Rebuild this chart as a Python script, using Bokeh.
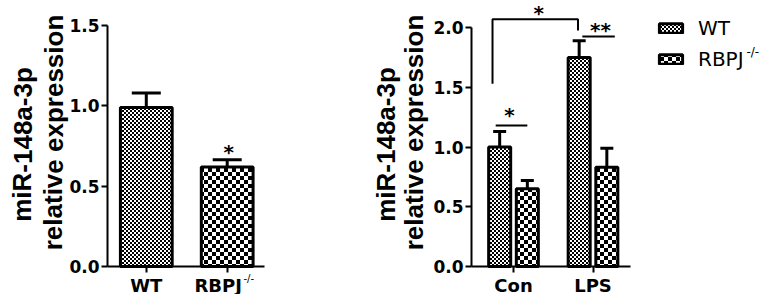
import base64
from bokeh.plotting import figure
from bokeh.models import (ColumnDataSource, FixedTicker, Whisker, TeeHead,
                          Legend, LegendItem, ImageURLTexture, PrintfTickFormatter)
from bokeh.core.properties import value
from bokeh.layouts import row
from bokeh.embed import file_html
from bokeh.resources import INLINE

# ---------------- data ----------------
left_groups = ["WT", "RBPJ"]
left_means = [0.99, 0.62]
left_errs = [0.09, 0.045]

right_groups = ["Con", "LPS"]
wt_means = [1.00, 1.75]
wt_errs = [0.13, 0.14]
ko_means = [0.65, 0.83]
ko_errs = [0.07, 0.16]

series_names = ["WT", "RBPJ"]
superscript = "-/-"
ylabel_lines = ["miR-148a-3p", "relative expression"]
left_yticks = [0.0, 0.5, 1.0, 1.5]
right_yticks = [0.0, 0.5, 1.0, 1.5, 2.0]

# ---------------- styles ----------------
FONT_NUM = "DejaVu Sans"
FONT_LBL = "Liberation Sans"
H = 294


def checker_url(n):
    t = 2 * n
    svg = (f"<svg xmlns='http://www.w3.org/2000/svg' width='{t}' height='{t}'>"
           f"<rect width='{t}' height='{t}' fill='white'/>"
           f"<rect width='{n}' height='{n}' fill='black'/>"
           f"<rect x='{n}' y='{n}' width='{n}' height='{n}' fill='black'/></svg>")
    return "data:image/svg+xml;base64," + base64.b64encode(svg.encode()).decode()


HATCH = {"fine": ImageURLTexture(url=checker_url(2)),
         "coarse": ImageURLTexture(url=checker_url(4))}


def make_fig(width, xr, yr):
    p = figure(width=width, height=H, output_backend="svg", toolbar_location=None,
               x_range=xr, y_range=yr, min_border=0, min_border_left=0,
               min_border_right=0, min_border_top=0, min_border_bottom=0,
               title_location=None)
    for ax in (p.xaxis[0], p.yaxis[0]):
        ax.axis_line_width = 2
        ax.major_tick_line_width = 2
        ax.major_tick_out = 6
        ax.major_tick_in = 0
        ax.minor_tick_out = 0
        ax.minor_tick_in = 0
        ax.major_label_text_font = FONT_NUM
        ax.major_label_text_font_style = "bold"
        ax.major_label_text_color = "black"
        ax.axis_line_color = "black"
        ax.major_tick_line_color = "black"
    p.yaxis.major_label_text_font_size = "17px"
    p.yaxis.major_label_standoff = 2
    p.xgrid.visible = False
    p.ygrid.visible = False
    p.outline_line_color = None
    p.background_fill_color = "white"
    p.border_fill_color = "white"
    return p


def txt(p, x, y, s, size, bold=True, align="center", baseline="middle",
        angle=0.0, font=FONT_NUM):
    p.text(x=x, y=y, text=s, text_font=value(font),
           text_font_style="bold" if bold else "normal", text_font_size=size,
           text_align=align, text_baseline=baseline, angle=angle, text_color="black")


# ---------------- left chart ----------------
W1 = 300
l_ppx = 80.9            # px per x unit
l_ppy = 241 / 1.5       # px per y unit
L_AX = 107              # page x of y axis
L_ZERO = 266            # page y of value 0
L_XS = 1 - 145.8 / l_ppx
lX = lambda px: L_XS + px / l_ppx
lY = lambda py: (L_ZERO - py) / l_ppy
p1 = make_fig(W1, (L_XS, L_XS + W1 / l_ppx), (lY(H), lY(0)))
lx = [1, 2]
src1 = ColumnDataSource(dict(x=lx, top=left_means,
                             upper=[m + e for m, e in zip(left_means, left_errs)],
                             pat=["fine", "coarse"]))
p1.vbar(x="x", top="top", width=0.64, bottom=0, source=src1,
        fill_color="white", line_color="black", line_width=3,
        hatch_pattern="pat", hatch_color="black", hatch_extra=HATCH)
p1.add_layout(Whisker(source=src1, base="x", lower="top", upper="upper",
                      dimension="height", line_width=3, line_color="black",
                      upper_head=TeeHead(size=29, line_width=3, line_color="black"),
                      lower_head=None))
p1.xaxis.fixed_location = 0
p1.xaxis.bounds = (lX(L_AX), lX(264))
p1.xaxis.ticker = FixedTicker(ticks=lx)
p1.xaxis.major_label_overrides = {1: "", 2: ""}
p1.yaxis.fixed_location = lX(L_AX)
p1.yaxis.bounds = (0, 1.5)
p1.yaxis.ticker = FixedTicker(ticks=left_yticks)
p1.yaxis.formatter = PrintfTickFormatter(format="%.1f")
# x labels
txt(p1, [lx[0]], [lY(284.5)], [left_groups[0]], "18px")
txt(p1, [lX(194)], [lY(284.5)], [left_groups[1]], "18px", align="left")
txt(p1, [lX(243)], [lY(277.5)], [superscript], "10px", bold=False, align="left")
# star
txt(p1, [lx[1] + 0.02], [left_means[1] + left_errs[1] + 0.048], ["*"], "20px")
# y label
txt(p1, [lX(22), lX(53)], [lY(144), lY(132)], ylabel_lines, "26px",
    angle=1.5707963, font=FONT_LBL)

# ---------------- right chart ----------------
W2 = 768 - W1
r_ppx = 79.5
r_ppy = 119.5
R_XS = 1 - (513 - W1) / r_ppx
rX = lambda px: R_XS + (px - W1) / r_ppx
rY = lambda py: (266 - py) / r_ppy
p2 = make_fig(W2, (R_XS, R_XS + W2 / r_ppx), (rY(H), rY(0)))
gx = [1, 2]
off = 0.174
wt_x = [g - off for g in gx]
ko_x = [g + off for g in gx]
src_wt = ColumnDataSource(dict(x=wt_x, top=wt_means,
                               upper=[m + e for m, e in zip(wt_means, wt_errs)]))
src_ko = ColumnDataSource(dict(x=ko_x, top=ko_means,
                               upper=[m + e for m, e in zip(ko_means, ko_errs)]))
r_wt = p2.vbar(x="x", top="top", width=0.277, bottom=0, source=src_wt,
               fill_color="white", line_color="black", line_width=3,
               hatch_pattern=value("fine"), hatch_color="black", hatch_extra=HATCH)
r_ko = p2.vbar(x="x", top="top", width=0.277, bottom=0, source=src_ko,
               fill_color="white", line_color="black", line_width=3,
               hatch_pattern=value("coarse"), hatch_color="black", hatch_extra=HATCH)
for s in (src_wt, src_ko):
    p2.add_layout(Whisker(source=s, base="x", lower="top", upper="upper",
                          dimension="height", line_width=3, line_color="black",
                          upper_head=TeeHead(size=13, line_width=3, line_color="black"),
                          lower_head=None))
p2.xaxis.fixed_location = 0
p2.xaxis.bounds = (rX(471), rX(630))
p2.xaxis.ticker = FixedTicker(ticks=gx)
p2.xaxis.major_label_overrides = {1: "", 2: ""}
p2.yaxis.fixed_location = rX(471)
p2.yaxis.bounds = (0, 2.0)
p2.yaxis.ticker = FixedTicker(ticks=right_yticks)
p2.yaxis.formatter = PrintfTickFormatter(format="%.1f")

txt(p2, gx, [rY(284.5)] * 2, right_groups, "18px")

wt_caps = [m + e for m, e in zip(wt_means, wt_errs)]
con_line_y = wt_caps[0] + 0.05
lps_line_y = wt_caps[1] + 0.035
p2.line(x=[wt_x[0] - 0.05, ko_x[0]], y=[con_line_y, con_line_y], line_width=2, color="black")
p2.line(x=[wt_x[1] + 0.04, ko_x[1] + 0.1], y=[lps_line_y, lps_line_y], line_width=2, color="black")
br_top = wt_caps[1] + 0.18
p2.line(x=[wt_x[0] - 0.09, wt_x[0] - 0.09, wt_x[1] - 0.015, wt_x[1] - 0.015],
        y=[wt_caps[0] + 0.40, br_top, br_top, wt_caps[1] + 0.085],
        line_width=2, color="black")
txt(p2, [gx[0] - 0.05, gx[1] + 0.095, (wt_x[0] + wt_x[1]) / 2 - 0.01],
    [con_line_y + 0.085, lps_line_y + 0.05, br_top + 0.055], ["*", "**", "*"], "20px")

legend = Legend(items=[LegendItem(label=series_names[0], renderers=[r_wt]),
                       LegendItem(label=series_names[1], renderers=[r_ko])],
                location=(656 - W1, 223), glyph_width=29, glyph_height=12,
                label_standoff=13, spacing=7, padding=0, margin=0,
                border_line_alpha=0, background_fill_alpha=0,
                label_text_font=FONT_NUM, label_text_font_size="20px",
                label_text_color="black")
p2.add_layout(legend)
txt(p2, [rX(746)], [rY(51)], [superscript], "12px", bold=False, align="left")
txt(p2, [rX(385), rX(413)], [rY(144), rY(132)], ylabel_lines, "26px",
    angle=1.5707963, font=FONT_LBL)

layout = row(p1, p2, styles={"position": "absolute", "left": "0px", "top": "0px"})
open("out.html", "w").write(file_html(layout, INLINE))
